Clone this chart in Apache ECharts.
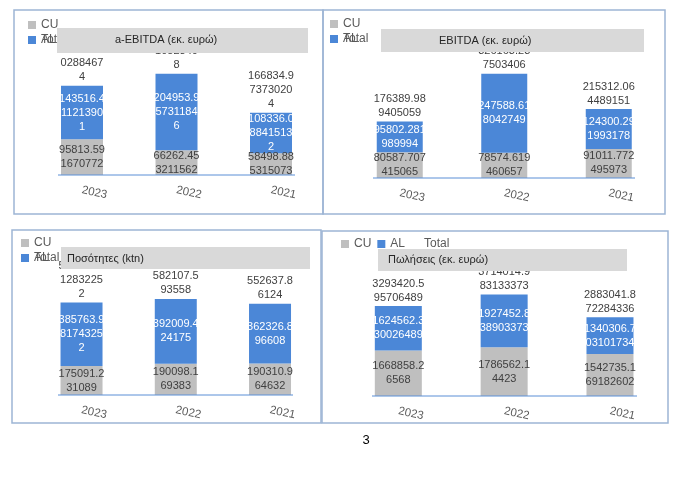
<!DOCTYPE html>
<html>
<head>
<meta charset="utf-8">
<script src="https://cdn.jsdelivr.net/npm/echarts@6/dist/echarts.min.js"></script>
<style>
html,body{margin:0;padding:0;background:#fff;}
#c{width:688px;height:484px;}
</style>
</head>
<body>
<div id="c"></div>
<script>
// ---- data ----
const years = ['2023', '2022', '2021'];

const aEbitdaCU = [95813.591670772, 66262.453211562, 58498.885315073];
const aEbitdaAL = [143516.411213901, 204953.957311846, 108336.088415132];
const aEbitdaTotal = [239330.002884674, 271216.410523408, 166834.973730204];

const ebitdaCU = [80587.707415065, 78574.619460657, 91011.772495973];
const ebitdaAL = [95802.281989994, 247588.618042749, 124300.291993178];
const ebitdaTotal = [176389.989405059, 326163.237503406, 215312.064489151];

const qtyCU = [175091.231089, 190098.169383, 190310.964632];
const qtyAL = [385763.981743252, 392009.424175, 362326.896608];
const qtyTotal = [560855.212832252, 582107.593558, 552637.86124];

const salesCU = [1668858.26568, 1786562.14423, 1542735.169182602];
const salesAL = [1624562.330026489, 1927452.838903373, 1340306.703101734];
const salesTotal = [3293420.595706489, 3714014.983133373, 2883041.872284336];

const titles = ['a-EBITDA (εκ. ευρώ)', 'EBITDA (εκ. ευρώ)', 'Ποσότητες (ktn)', 'Πωλήσεις (εκ. ευρώ)'];
const pageNumber = '3';

// ---- layout / style ----
const FONT = 'Liberation Sans';
const C_CU = '#bfbfbf', C_AL = '#4b87d7', C_TXT = '#404040', C_AX = '#595959';
const C_BORDER = '#9db5d5', C_TITLEBOX = '#d9d9d9', C_AXLINE = '#5b8fd6';

const panels = [
  { cu: aEbitdaCU, al: aEbitdaAL, total: aEbitdaTotal, title: titles[0],
    grid: {left: 34.75, top: 63.1, width: 283.5, height: 111.9}, max: 300000, barW: 42, lw: 47.5,
    border: [14, 10, 309, 204], axis: [58, 295, 175],
    tbox: [57, 28, 251, 25], ttext: [115, 40],
    legend: {left: 23, top: 13, orient: 'vertical'} },
  { cu: ebitdaCU, al: ebitdaAL, total: ebitdaTotal, title: titles[1],
    grid: {left: 347.5, top: 50, width: 313.5, height: 128}, max: 400000, barW: 46, lw: 55,
    border: [323, 10, 342, 204], axis: [373, 635, 178],
    tbox: [381, 29, 263, 23], ttext: [439, 41],
    legend: {left: 325, top: 12, orient: 'vertical'} },
  { cu: qtyCU, al: qtyAL, total: qtyTotal, title: titles[2],
    grid: {left: 34.4, top: 279.5, width: 282.75, height: 115.5}, max: 700000, barW: 42, lw: 47.5,
    border: [12, 230, 309, 193], axis: [58, 293, 395],
    tbox: [61, 247, 249, 22], ttext: [67, 259],
    legend: {left: 16, top: 231, orient: 'vertical'} },
  { cu: salesCU, al: salesAL, total: salesTotal, title: titles[3],
    grid: {left: 345.4, top: 286.8, width: 317.5, height: 109.2}, max: 4000000, barW: 47, lw: 55,
    border: [322, 231, 346, 192], axis: [372, 637, 396],
    tbox: [378, 249, 249, 22], ttext: [388, 260],
    legend: {left: 336, top: 232, orient: 'horizontal'} }
];

const fmt = p => String(p.value);
const grid = [], xAxis = [], yAxis = [], series = [], legend = [], graphic = [];

panels.forEach((p, i) => {
  grid.push(Object.assign({containLabel: false}, p.grid));
  xAxis.push({
    type: 'category', gridIndex: i, data: years,
    axisLine: {show: false}, axisTick: {show: false},
    axisLabel: {rotate: -12, margin: 15, color: C_AX, fontSize: 11.5, fontFamily: FONT}
  });
  yAxis.push({type: 'value', gridIndex: i, min: 0, max: p.max, show: false, splitLine: {show: false}});
  const stack = 's' + i;
  series.push({
    name: 'CU', type: 'bar', stack, xAxisIndex: i, yAxisIndex: i, data: p.cu, barWidth: p.barW,
    itemStyle: {color: C_CU},
    label: {show: true, position: 'inside', formatter: fmt, color: C_TXT, fontSize: 11, fontFamily: FONT,
            lineHeight: 14, width: p.lw, overflow: 'breakAll'}
  });
  series.push({
    name: 'AL', type: 'bar', stack, xAxisIndex: i, yAxisIndex: i, data: p.al, barWidth: p.barW,
    itemStyle: {color: C_AL},
    label: {show: true, position: 'inside', formatter: fmt, color: '#ffffff', fontSize: 11, fontFamily: FONT,
            lineHeight: 14, width: p.lw, overflow: 'breakAll'}
  });
  series.push({
    name: 'Total', type: 'line', xAxisIndex: i, yAxisIndex: i, data: p.total,
    symbol: 'rect', symbolSize: 1, showSymbol: true,
    itemStyle: {color: 'rgba(0,0,0,0)', borderWidth: 0},
    lineStyle: {width: 0, color: 'rgba(0,0,0,0)'},
    label: {show: true, position: 'top', distance: 1, formatter: fmt, color: C_TXT, fontSize: 11, fontFamily: FONT,
            lineHeight: 14, width: p.lw, overflow: 'breakAll'},
    z: 3
  });

  const lgText = {color: C_AX, fontSize: 12, fontFamily: FONT, lineHeight: 14};
  if (p.legend.orient === 'vertical') {
    legend.push({
      orient: 'vertical', left: p.legend.left, top: p.legend.top, itemWidth: 8, itemHeight: 8, itemGap: 1,
      data: [{name: 'CU', icon: 'rect'}, {name: 'AL', icon: 'rect'}], textStyle: lgText, selectedMode: false
    });
    legend.push({
      orient: 'vertical', left: p.legend.left, top: p.legend.top + 15, itemWidth: 8, itemHeight: 8,
      data: [{name: 'Total', icon: 'rect', itemStyle: {color: 'rgba(0,0,0,0)', borderWidth: 0}}],
      textStyle: lgText, selectedMode: false
    });
  } else {
    legend.push({
      orient: 'horizontal', left: p.legend.left, top: p.legend.top, itemWidth: 8, itemHeight: 8, itemGap: 6,
      data: [{name: 'CU', icon: 'rect'}, {name: 'AL', icon: 'rect'},
             {name: 'Total', icon: 'rect', itemStyle: {color: 'rgba(0,0,0,0)', borderWidth: 0}}],
      textStyle: lgText, selectedMode: false
    });
  }

  graphic.push({type: 'rect', z: 50, silent: true,
    shape: {x: p.border[0], y: p.border[1], width: p.border[2], height: p.border[3]},
    style: {fill: 'none', stroke: C_BORDER, lineWidth: 1.5}});
  graphic.push({type: 'line', z: 50, silent: true,
    shape: {x1: p.axis[0], y1: p.axis[2], x2: p.axis[1], y2: p.axis[2]},
    style: {stroke: C_AXLINE, lineWidth: 1}});
  graphic.push({type: 'rect', z: 100, silent: true,
    shape: {x: p.tbox[0], y: p.tbox[1], width: p.tbox[2], height: p.tbox[3]},
    style: {fill: C_TITLEBOX}});
  graphic.push({type: 'text', z: 101, silent: true, x: p.ttext[0], y: p.ttext[1],
    style: {text: p.title, fill: '#262626', font: '11px "' + FONT + '"', textVerticalAlign: 'middle', verticalAlign: 'middle'}});
});

graphic.push({type: 'text', z: 101, silent: true, x: 366, y: 440,
  style: {text: pageNumber, fill: '#000', font: '13px "' + FONT + '"', align: 'center', verticalAlign: 'middle'}});

const chart = echarts.init(document.getElementById('c'), null, {renderer: 'canvas'});
chart.setOption({
  animation: false,
  backgroundColor: '#ffffff',
  textStyle: {fontFamily: FONT},
  grid, xAxis, yAxis, series, legend, graphic
});
</script>
</body>
</html>
